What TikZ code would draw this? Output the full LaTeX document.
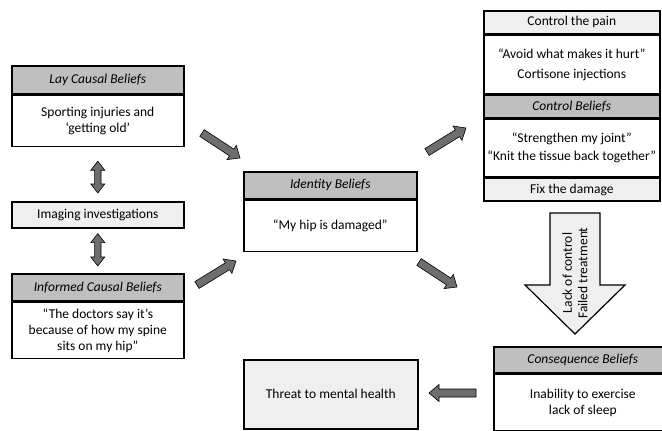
\documentclass[tikz,border=0pt]{standalone}
\usepackage{fontspec}
\setmainfont{Carlito}
\usetikzlibrary{calc,positioning}
\definecolor{hdrgray}{HTML}{BFBFBF}
\definecolor{palegray}{HTML}{EFEFEF}
\definecolor{arrowgray}{HTML}{6E6E6E}
\tikzset{
  cell/.style={draw, line width=1.6pt, inner sep=0pt, align=center,
    font=\fontsize{13.5}{16}\selectfont},
  header/.style={cell, fill=hdrgray, font=\fontsize{13.5}{16}\selectfont\itshape},
  body/.style={cell, fill=white},
  pale/.style={cell, fill=palegray},
  blockarrow/.style={draw, line width=0.6pt, fill=arrowgray, line join=miter},
}
% #1 = tail, #2 = tip
\newcommand\blockarrow[2]{%
  \coordinate (h) at ($(#2)!10pt!(#1)$);
  \draw[blockarrow] ($(#1)!4pt!90:(#2)$) -- ($(h)!4pt!90:(#2)$) -- ($(h)!8.5pt!90:(#2)$)
    -- (#2) -- ($(h)!8.5pt!-90:(#2)$) -- ($(h)!4pt!-90:(#2)$) -- ($(#1)!4pt!-90:(#2)$) -- cycle;}
\newcommand\dblarrow[2]{%
  \coordinate (h1) at ($(#1)!9pt!(#2)$);
  \coordinate (h2) at ($(#2)!9pt!(#1)$);
  \draw[blockarrow] (#1) -- ($(h1)!7pt!90:(#2)$) -- ($(h1)!3.2pt!90:(#2)$)
    -- ($(h2)!3.2pt!-90:(#1)$) -- ($(h2)!7pt!-90:(#1)$) -- (#2)
    -- ($(h2)!7pt!90:(#1)$) -- ($(h2)!3.2pt!90:(#1)$)
    -- ($(h1)!3.2pt!-90:(#2)$) -- ($(h1)!7pt!-90:(#2)$) -- cycle;}

\begin{document}
\begin{tikzpicture}[x=1pt, y=-1pt]
  \useasboundingbox (0,0) rectangle (662,431);
  % Causal beliefs
  \node[header, minimum width=172pt, minimum height=28pt, anchor=north west] (layhead) at (11,65) {Lay Causal Beliefs};
  \node[body, minimum width=172pt, minimum height=51pt, anchor=north] (laybody) at (layhead.south) {Sporting injuries and\\‘getting old’};
  \node[pale, minimum width=172pt, minimum height=26pt, anchor=north west] (imaging) at (11,201) {Imaging investigations};
  \node[header, minimum width=172pt, minimum height=27pt, anchor=north west] (infhead) at (11,273) {Informed Causal Beliefs};
  \node[body, minimum width=172pt, minimum height=56pt, anchor=north] (infbody) at (infhead.south) {“The doctors say it’s\\because of how my spine\\sits on my hip”};
  % Identity
  \node[header, minimum width=173pt, minimum height=27pt, anchor=north west] (idhead) at (243,171) {Identity Beliefs};
  \node[body, minimum width=173pt, minimum height=51pt, anchor=north] (idbody) at (idhead.south) {\raisebox{-4pt}{“My hip is damaged”}};
  % Control
  \node[pale, minimum width=176pt, minimum height=23pt, anchor=north west] (pain) at (483,10) {Control the pain};
  \node[body, minimum width=176pt, minimum height=58pt, anchor=north] (painbody) at (pain.south) {“Avoid what makes it hurt”\\[4pt]Cortisone injections};
  \node[header, minimum width=176pt, minimum height=23pt, anchor=north] (ctrlhead) at (painbody.south) {Control Beliefs};
  \node[body, minimum width=176pt, minimum height=57pt, anchor=north] (ctrlbody) at (ctrlhead.south) {\raisebox{-2pt}{“Strengthen my joint”}\\[4pt]“Knit the tissue back together”};
  \node[pale, minimum width=176pt, minimum height=23pt, anchor=north] (damage) at (ctrlbody.south) {Fix the damage};
  % Consequence
  \node[header, minimum width=172pt, minimum height=26pt, anchor=north west] (conshead) at (493,346) {\hspace*{6pt}Consequence Beliefs};
  \node[body, minimum width=172pt, minimum height=56pt, anchor=north] (consbody) at (conshead.south) {\hspace*{6pt}Inability to exercise\\\hspace*{6pt}lack of sleep};
  \node[pale, minimum width=174pt, minimum height=69pt, anchor=north west] (threat) at (243,359) {Threat to mental health};

  % arrows
  \dblarrow{$(laybody.south)+(0,14)$}{$(imaging.north)+(0,-8)$}
  \dblarrow{$(imaging.south)+(0,5)$}{$(infhead.north)+(0,-7)$}
  \coordinate (a1s) at (202,133);
  \coordinate (a1e) at (240,158);
  \coordinate (a2s) at (197,285);
  \coordinate (a2e) at (236,261);
  \coordinate (a3s) at (427,152);
  \coordinate (a3e) at (466,128);
  \coordinate (a4s) at (419,262);
  \coordinate (a4e) at (457,287);
  \coordinate (a5s) at (476,393);
  \coordinate (a5e) at (429,393);
  \blockarrow{a1s}{a1e}
  \blockarrow{a2s}{a2e}
  \blockarrow{a3s}{a3e}
  \blockarrow{a4s}{a4e}
  \blockarrow{a5s}{a5e}
  % big arrow
  \coordinate (bigtop) at (575,213);
  \draw[line width=1.2pt, fill=palegray, line join=miter] ($(bigtop)+(-25,0)$) -- ($(bigtop)+(25,0)$) -- ($(bigtop)+(25,72)$)
    -- ($(bigtop)+(50,72)$) -- ($(bigtop)+(0,121)$) -- ($(bigtop)+(-50,72)$) -- ($(bigtop)+(-25,72)$) -- cycle;
  \node[rotate=90, align=center, inner sep=0pt, font=\fontsize{13.5}{15.5}\selectfont] (biglabel) at ($(bigtop)+(0,60)$) {Lack of control\\Failed treatment};
\end{tikzpicture}
\end{document}
